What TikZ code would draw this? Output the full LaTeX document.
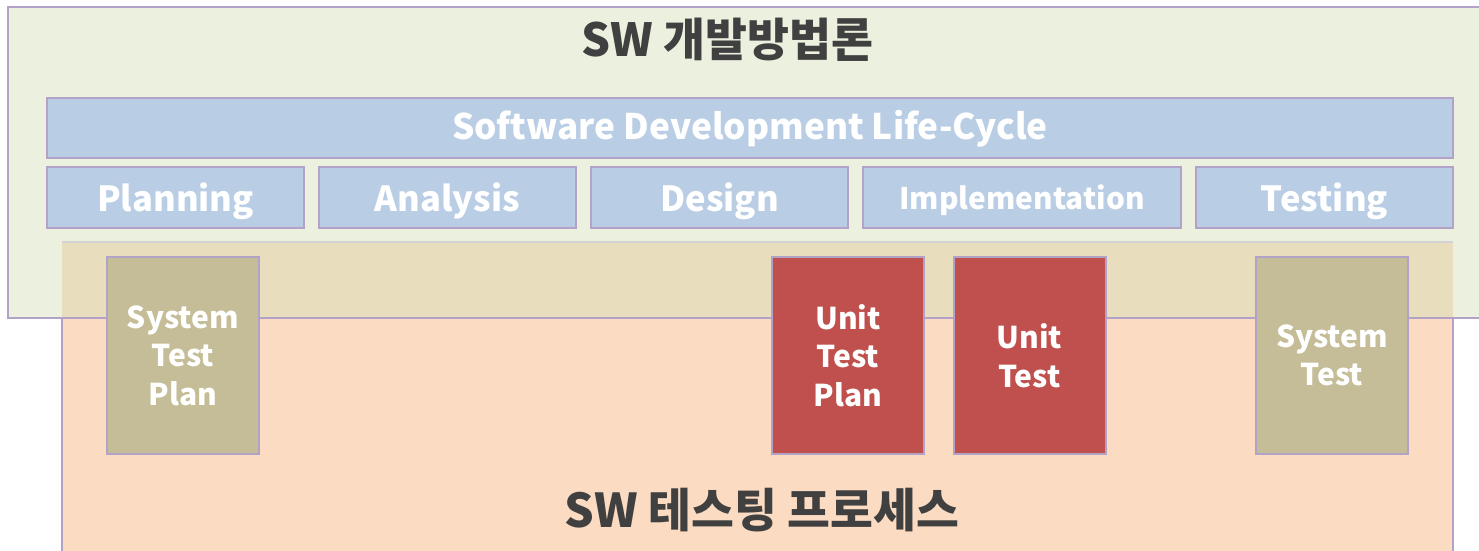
\documentclass[tikz,border=0pt]{standalone}
\usepackage{fontspec}
\setmainfont{Noto Sans CJK KR}
\usepackage{tikz}

\definecolor{methodgreen}{HTML}{EBF1DE}
\definecolor{testorange}{HTML}{FBDBC2}
\definecolor{overlaptan}{HTML}{E8DEBE}
\definecolor{phaseblue}{HTML}{B9CDE5}
\definecolor{sysolive}{HTML}{C4BD97}
\definecolor{unitred}{HTML}{C0504D}
\definecolor{edgepurple}{HTML}{B3A2C7}
\definecolor{titlegray}{HTML}{404040}

\begin{document}
\begin{tikzpicture}[x=0.5pt,y=-0.5pt,
    every node/.style={inner sep=0pt,font=\bfseries},
    title/.style={text=titlegray,anchor=base},
    phase/.style={draw=edgepurple,line width=1pt,fill=phaseblue,text=white,
                  text height=14.5pt,text depth=0pt,
                  minimum width=128.5pt,minimum height=30.5pt,font=\bfseries\fontsize{17.3}{20}\selectfont},
    testbox/.style={draw=edgepurple,line width=1pt,text=white,align=center,
                    minimum width=76pt,minimum height=98.5pt,font=\bfseries\fontsize{15}{19.3}\selectfont}]
    \useasboundingbox (0,0) rectangle (1479,551);
    \clip (0,0) rectangle (1479,551);

    % the two containers, overlapping in a band
    \fill[testorange] (62,242) rectangle (1453,570);
    \fill[methodgreen] (8,7) rectangle (1500,318);
    \fill[overlaptan] (62,242) rectangle (1453,318);
    \draw[gray!35,line width=1pt] (62,242) -- (1453,242);
    \draw[edgepurple,line width=1pt] (62,570) -- (62,318) (1453,318) -- (1453,570);
    \draw[edgepurple,line width=1pt] (8,7) rectangle (1500,318);

    \node[title,font=\bfseries\fontsize{22.8}{26}\selectfont] (method) at (727,57) {SW 개발방법론};
    \node[title,font=\bfseries\fontsize{23.3}{27}\selectfont] (process) at (762,527) {SW 테스팅 프로세스};

    % life-cycle bar and its phases
    \node[phase,minimum width=703pt,minimum height=30pt,text height=12.9pt,text depth=1.4pt,
          font=\bfseries\fontsize{17.6}{20}\selectfont] (sdlc) at (750,128) {Software Development Life-Cycle};
    \node[phase] (planning) at (175.5,197.5) {Planning};
    \node[phase] (analysis) at (447.5,197.5) {Analysis};
    \node[phase] (design) at (719.5,197.5) {Design};
    \node[phase,minimum width=159pt,text height=12.5pt,font=\bfseries\fontsize{14.9}{18}\selectfont] (impl) at (1022,197.5) {Implementation};
    \node[phase] (testing) at (1324.5,197.5) {Testing};

    % test activities
    \node[testbox,fill=sysolive] (stplan) at (183,355.5) {System\\Test\\Plan};
    \node[testbox,fill=unitred] (utplan) at (848,355.5) {Unit\\Test\\Plan};
    \node[testbox,fill=unitred] (utest) at (1029.5,355.5) {Unit\\Test};
    \node[testbox,fill=sysolive] (stest) at (1332,355.5) {System\\Test};
\end{tikzpicture}
\end{document}
